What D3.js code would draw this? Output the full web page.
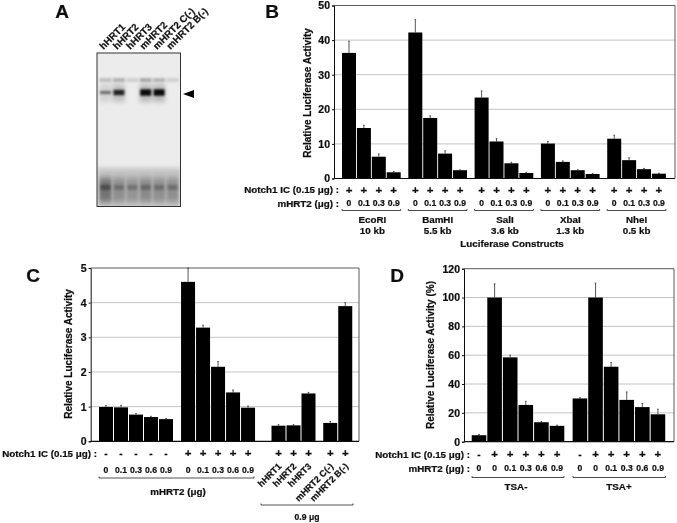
<!DOCTYPE html>
<html><head><meta charset="utf-8">
<script src="https://cdn.jsdelivr.net/npm/d3@7"></script>
<style>
html,body{margin:0;padding:0;background:#fff}
svg{display:block}
text{font-family:"Liberation Sans",Arial,sans-serif;font-weight:bold;fill:#111;stroke:#111;stroke-width:0.22px}
</style></head><body>
<svg id="c" width="677" height="523"></svg>
<script>
// Panel A: gel lanes
const laneNames = ["hHRT1","hHRT2","hHRT3","mHRT2","mHRT2 C(-)","mHRT2 B(-)"];
const mainBand = [0.5,0.85,0,1,1,0];
const upperBand = [0.22,0.28,0.14,0.32,0.26,0.14];
const lowerBand = [0.85,0.55,0.5,0.6,0.55,0.55];

// Panel B
const bGroups = ["EcoRI","BamHI","SalI","XbaI","NheI"];
const bSizes = ["10 kb","5.5 kb","3.6 kb","1.3 kb","0.5 kb"];
const bDoses = ["0","0.1","0.3","0.9"];
const bValues = [[36.3,14.6,6.3,1.8],[42.2,17.5,7.2,2.4],[23.4,10.7,4.4,1.6],[10.1,4.8,2.4,1.3],[11.5,5.3,2.7,1.4]];
const bErrors = [[39.7,15.4,7.1,2.0],[45.9,18.1,8.0,2.5],[25.3,11.5,4.7,1.8],[10.7,5.1,2.5,1.4],[12.5,6.0,2.9,1.5]];
const bTicks = [0,10,20,30,40,50];

// Panel C
const cSigns = ["-","-","-","-","-","+","+","+","+","+","+","+","+","+","+"];
const cLabels = ["0","0.1","0.3","0.6","0.9","0","0.1","0.3","0.6","0.9","hHRT1","hHRT2","hHRT3","mHRT2 C(-)","mHRT2 B(-)"];
const cValues = [0.99,0.98,0.77,0.70,0.64,4.6,3.28,2.15,1.41,0.97,0.45,0.46,1.38,0.53,3.9];
const cErrors = [1.03,1.04,0.80,0.72,0.66,5.0,3.35,2.30,1.48,1.02,0.48,0.48,1.41,0.57,4.0];
const cSlots = [0,1,2,3,4,5.47,6.47,7.47,8.47,9.47,11.5,12.5,13.5,14.95,15.95];
const cTicks = [0,1,2,3,4,5];

// Panel D
const dSigns = ["-","+","+","+","+","+","-","+","+","+","+","+"];
const dDoses = ["0","0","0.1","0.3","0.6","0.9","0","0","0.1","0.3","0.6","0.9"];
const dValues = [4.5,100,58.5,25.5,13.5,11,30,100,52,29,24,19];
const dErrors = [5,109.5,60,28,14,11.5,30.5,110,55,34.5,26.5,22.5];
const dSlots = [0,1,2,3,4,5,6.47,7.47,8.47,9.47,10.47,11.47];
const dTicks = [0,20,40,60,80,100,120];

const svg = d3.select("#c");
const defs = svg.append("defs");
const blur = (id,sx,sy)=>defs.append("filter").attr("id",id).attr("x","-60%").attr("y","-60%").attr("width","220%").attr("height","220%")
  .append("feGaussianBlur").attr("stdDeviation",sx+" "+sy);
blur("b1",1.3,1.2); blur("b2",2,2.4); blur("b3",1.6,3.2); blur("soft",0.3,0.3);
defs.append("clipPath").attr("id","gelclip").append("rect").attr("x",97).attr("y",53).attr("width",83.5).attr("height",153.5);

const root = svg.append("g").attr("filter","url(#soft)");

function txt(g,x,y,s,size,anchor,rot){
  const t=g.append("text").text(s).attr("font-size",size).attr("text-anchor",anchor||"middle").attr("dominant-baseline","central");
  t.attr("transform","translate("+x+","+y+")"+(rot?" rotate("+rot+")":""));
  return t;
}
function bracket(g,x0,x1,y){
  g.append("path").attr("d",d3.line()([[x0,y-1.5],[x0,y],[x1,y],[x1,y-1.5]])).attr("fill","none").attr("stroke","#222").attr("stroke-width",0.8);
}
function plot(o){
  const g=root.append("g");
  const y=d3.scaleLinear().domain(o.domain).range([o.bottom,o.top]);
  const x=d3.scaleLinear().domain([0,1]).range([o.x0,o.x0+o.step]);
  g.selectAll("line.grid").data(o.ticks.slice(1,-1)).join("line").attr("class","grid")
    .attr("x1",o.left).attr("x2",o.right).attr("y1",d=>y(d)).attr("y2",d=>y(d)).attr("stroke","#b5b5b5").attr("stroke-width",0.8);
  g.append("path").attr("d",d3.line()([[o.left,o.top],[o.right,o.top],[o.right,o.bottom]])).attr("fill","none").attr("stroke","#333").attr("stroke-width",0.8);
  const ax=g.append("g").attr("transform","translate("+o.left+",0)").call(d3.axisLeft(y).tickValues(o.ticks).tickFormat(d3.format("d")).tickSize(2).tickPadding(2));
  ax.selectAll("text").attr("font-size",10.5);
  ax.selectAll("line,path").attr("stroke","#111").attr("stroke-width",1);
  g.append("line").attr("x1",o.left).attr("x2",o.right).attr("y1",o.bottom).attr("y2",o.bottom).attr("stroke","#111").attr("stroke-width",1.2);
  const w=o.barW;
  const data=o.values.map((v,i)=>({v,e:o.errors[i],s:o.slots[i]}));
  g.selectAll("line.err").data(data).join("line").attr("class","err")
    .attr("x1",d=>x(d.s)).attr("x2",d=>x(d.s)).attr("y1",d=>y(d.v)).attr("y2",d=>y(d.e)).attr("stroke","#444").attr("stroke-width",0.9);
  g.selectAll("line.cap").data(data).join("line").attr("class","cap")
    .attr("x1",d=>x(d.s)-0.8).attr("x2",d=>x(d.s)+0.8).attr("y1",d=>y(d.e)).attr("y2",d=>y(d.e)).attr("stroke","#444").attr("stroke-width",0.9);
  g.selectAll("rect.bar").data(data).join("rect").attr("class","bar")
    .attr("x",d=>x(d.s)-w/2).attr("width",w).attr("y",d=>y(d.v)).attr("height",d=>o.bottom-y(d.v)).attr("fill","#050505");
  txt(g,o.titleX,o.titleY,o.title,10,"middle",-90);
  return {g,x};
}

// Panel letters
txt(root,62,11,"A",19);
txt(root,272,11,"B",19);
txt(root,33,275,"C",19);
txt(root,397,275,"D",19);

// Panel A gel
(function(){
  const g=root.append("g");
  const lane=d3.scalePoint().domain(laneNames).range([105.5,172.5]);
  const gel=g.append("g").attr("clip-path","url(#gelclip)");
  gel.append("rect").attr("x",97).attr("y",53).attr("width",84).attr("height",154).attr("fill","#ececec");
  gel.append("rect").attr("x",97).attr("y",168).attr("width",84).attr("height",40).attr("fill","#c4c4c4").attr("filter","url(#b2)");
  const w=12;
  gel.selectAll("rect.up").data(laneNames).join("rect").attr("class","up")
    .attr("x",d=>lane(d)-w/2).attr("width",w).attr("y",78).attr("height",4).attr("fill","#555")
    .attr("opacity",(d,i)=>upperBand[i]*1.3).attr("filter","url(#b1)");
  gel.selectAll("rect.halo").data(laneNames).join("rect").attr("class","halo")
    .attr("x",d=>lane(d)-w/2).attr("width",w).attr("y",84).attr("height",18).attr("fill","#444")
    .attr("opacity",(d,i)=>mainBand[i]*0.3).attr("filter","url(#b2)");
  gel.selectAll("rect.main").data(laneNames).join("rect").attr("class","main")
    .attr("x",d=>lane(d)-w/2+0.5).attr("width",w-1).attr("y",(d,i)=>92.5-mainBand[i]*3.2).attr("height",(d,i)=>mainBand[i]*6.4).attr("fill","#000")
    .attr("opacity",(d,i)=>mainBand[i]*0.95).attr("filter","url(#b1)");
  gel.selectAll("rect.low").data(laneNames).join("rect").attr("class","low")
    .attr("x",d=>lane(d)-w/2).attr("width",w).attr("y",178).attr("height",24).attr("fill","#444")
    .attr("opacity",(d,i)=>lowerBand[i]*0.75).attr("filter","url(#b3)");
  gel.selectAll("rect.low2").data(laneNames).join("rect").attr("class","low2")
    .attr("x",d=>lane(d)-w/2+1).attr("width",w-2).attr("y",185).attr("height",5).attr("fill","#222")
    .attr("opacity",(d,i)=>lowerBand[i]*0.55).attr("filter","url(#b1)");
  g.append("rect").attr("x",97).attr("y",53).attr("width",83.5).attr("height",153.5).attr("fill","none").attr("stroke","#333").attr("stroke-width",1);
  g.selectAll("text.lane").data(laneNames).join("text").attr("class","lane").text(d=>d)
    .attr("font-size",9.8).attr("text-anchor","start")
    .attr("transform",d=>"translate("+(lane(d)-2)+",50) rotate(-45)");
  g.append("path").attr("d",d3.line()([[183,94],[194,90],[194,98]])).attr("fill","#000");
})();

// Panel B
(function(){
  const slots=[],vals=[],errs=[];
  bValues.forEach((a,i)=>a.forEach((v,j)=>{slots.push(i*4.45+j);vals.push(v);errs.push(bErrors[i][j]);}));
  const {g,x}=plot({left:334,right:675,top:5.5,bottom:178.5,domain:[0,50],ticks:bTicks,values:vals,errors:errs,slots,x0:349,step:14.9,barW:14,
    title:"Relative Luciferase Activity",titleX:307,titleY:93});
  txt(g,339,189.5,"Notch1 IC (0.15 μg) :",9.8,"end");
  txt(g,339,203,"mHRT2 (μg) :",9.8,"end");
  slots.forEach((s,i)=>{
    txt(g,x(s),189.5,"+",11.5);
    txt(g,x(s),203,bDoses[i%4],8.6);
  });
  bGroups.forEach((n,i)=>{
    const c=x(i*4.45+1.5)+(i==2?1:i==0?1:0);
    bracket(g,x(i*4.45)-7,x(i*4.45+3)+7,210.5);
    txt(g,c,219,n,9.8); txt(g,c,230,bSizes[i],9.8);
  });
  txt(g,512,243,"Luciferase Constructs",9.8);
})();

// Panel C
(function(){
  const {g,x}=plot({left:90.7,right:359,top:268,bottom:441.3,domain:[0,5],ticks:cTicks,values:cValues,errors:cErrors,slots:cSlots,x0:106,step:15,barW:14,
    title:"Relative Luciferase Activity",titleX:68,titleY:354});
  txt(g,97,453,"Notch1 IC (0.15 μg) :",9.8,"end");
  cSlots.forEach((s,i)=>{
    txt(g,x(s),453,cSigns[i],cSigns[i]=="+"?11.5:10);
    if(i<10) txt(g,x(s),470,cLabels[i],8.6);
    else g.append("text").text(cLabels[i]).attr("font-size",9).attr("text-anchor","end")
      .attr("transform","translate("+(x(s)+3.5)+",467) rotate(-45)");
  });
  bracket(g,99,254,478);
  txt(g,178,491,"mHRT2 (μg)",9.8);
  bracket(g,261,353,505);
  txt(g,307,517,"0.9 μg",8.6);
})();

// Panel D
(function(){
  const {g,x}=plot({left:464,right:674,top:268.7,bottom:441.7,domain:[0,120],ticks:dTicks,values:dValues,errors:dErrors,slots:dSlots,x0:479,step:15.6,barW:14.6,
    title:"Relative Luciferase Activity (%)",titleX:430,titleY:355});
  txt(g,470,454,"Notch1 IC (0.15 μg) :",9.8,"end");
  txt(g,470,468,"mHRT2 (μg) :",9.8,"end");
  dSlots.forEach((s,i)=>{
    txt(g,x(s),454,dSigns[i],dSigns[i]=="+"?11.5:10);
    txt(g,x(s),468,dDoses[i],8.6);
  });
  bracket(g,472,564,477.5);
  bracket(g,573,665.5,477.5);
  txt(g,516,486,"TSA-",9.8);
  txt(g,619,486,"TSA+",9.8);
})();
</script>
</body></html>
